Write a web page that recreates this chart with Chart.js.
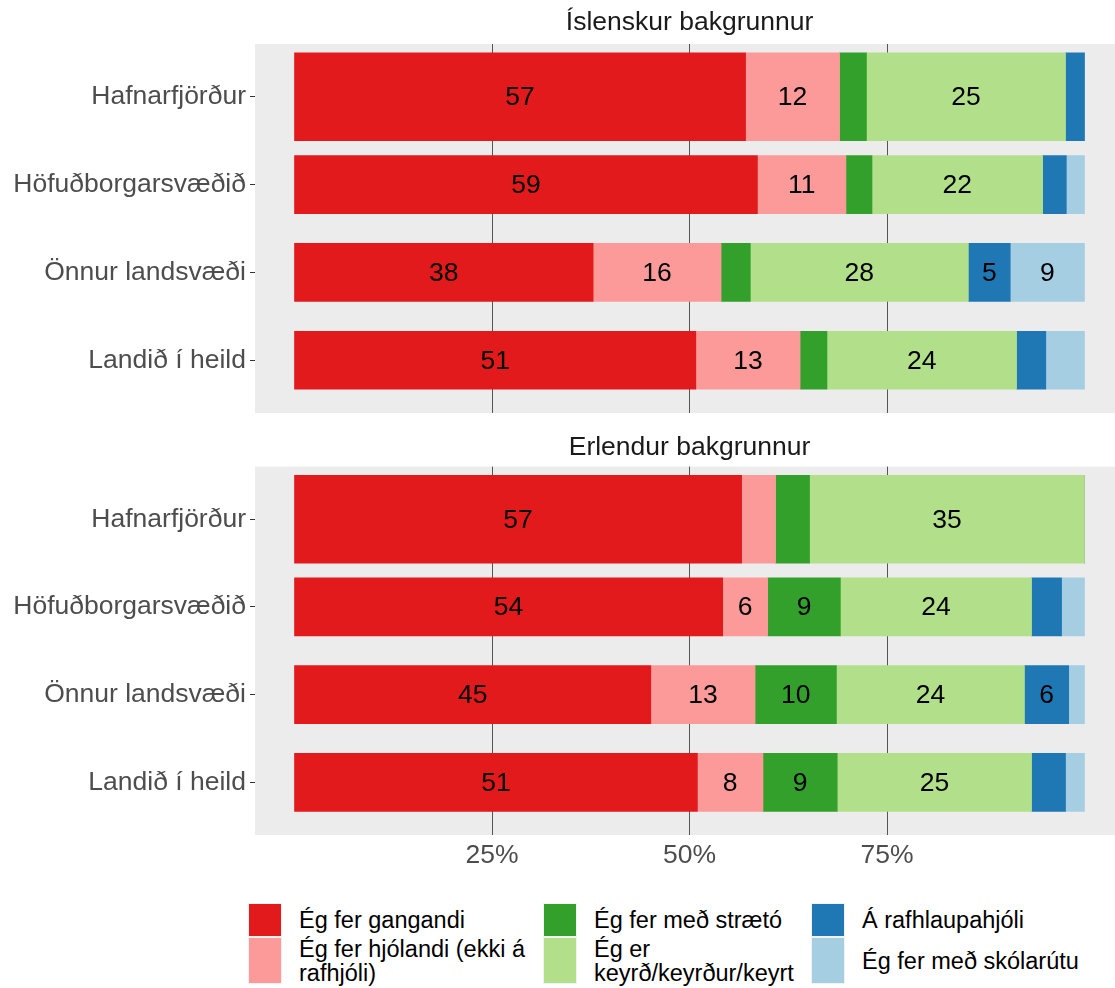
<!DOCTYPE html>
<html lang="is">
<head>
<meta charset="utf-8">
<title>Ferðamáti</title>
<script src="https://cdn.jsdelivr.net/npm/chart.js@4.4.1/dist/chart.umd.min.js"></script>
<style>
  html, body { margin: 0; padding: 0; background: #fff; overflow: hidden; }
  #wrap { position: relative; width: 1115px; height: 988px; overflow: hidden; }
  #wrap canvas { position: absolute; left: 0; }
  #c1 { top: 0; }
  #c2 { top: 425px; }
  .leg { position: absolute; display: flex; align-items: center;
         font-family: "Liberation Sans", Arial, sans-serif; font-size: 23.5px;
         line-height: 24px; color: #000; }
  .leg .key { flex: none; width: 32px; align-self: stretch; margin-right: 18px;
              box-shadow: 0 0 0 1px #F2F2F2; }
  .leg .txt span { white-space: nowrap; }
</style>
</head>
<body>
<div id="wrap">
  <canvas id="c1" width="1124" height="413"></canvas>
  <canvas id="c2" width="1124" height="450"></canvas>
  <div id="legend"></div>
</div>
<script>
// ---------- data ----------
const regions = ['Hafnarfjörður', 'Höfuðborgarsvæðið', 'Önnur landsvæði', 'Landið í heild'];
const panelTitles = ['Íslenskur bakgrunnur', 'Erlendur bakgrunnur'];
const modes = [
  'Ég fer gangandi',
  'Ég fer hjólandi (ekki á rafhjóli)',
  'Ég fer með strætó',
  'Ég er keyrð/keyrður/keyrt',
  'Á rafhlaupahjóli',
  'Ég fer með skólarútu'
];
const xTicks = [25, 50, 75];

// Íslenskur bakgrunnur (% per region)
const islGangandi  = [57.1, 58.6, 37.8, 50.8];
const islHjolandi  = [11.9, 11.2, 16.2, 13.2];
const islStraeto   = [3.4, 3.3, 3.7, 3.4];
const islKeyrd     = [25.2, 21.6, 27.6, 24.0];
const islRafhlaup  = [2.4, 3.0, 5.3, 3.7];
const islSkolaruta = [0.0, 2.3, 9.4, 4.9];

// Erlendur bakgrunnur (% per region)
const erlGangandi  = [56.6, 54.2, 45.1, 51.0];
const erlHjolandi  = [4.3, 5.7, 13.2, 8.3];
const erlStraeto   = [4.3, 9.2, 10.3, 9.4];
const erlKeyrd     = [34.8, 24.2, 23.8, 24.6];
const erlRafhlaup  = [0.0, 3.8, 5.6, 4.3];
const erlSkolaruta = [0.0, 2.9, 2.0, 2.4];

// ---------- styles ----------
const colors = ['#E31A1C', '#FB9A99', '#33A02C', '#B2DF8A', '#1F78B4', '#A6CEE3'];
const FONT = '"Liberation Sans", Arial, sans-serif';
const wideThickness = 88;   // first region bar is drawn wider
const narrowThickness = 58;
const labelThreshold = 5;

function buildDatasets(series) {
  const out = [];
  series.forEach((vals, s) => {
    out.push({
      label: modes[s],
      data: [{ x: vals[0], y: 1 }],
      backgroundColor: colors[s],
      borderWidth: 0,
      barThickness: wideThickness
    });
    out.push({
      label: modes[s],
      data: vals.slice(1).map((v, i) => ({ x: v, y: i + 2 })),
      backgroundColor: colors[s],
      borderWidth: 0,
      barThickness: narrowThickness
    });
  });
  return out;
}

const panelBg = {
  id: 'panelBg',
  beforeDraw(chart) {
    const { ctx, chartArea: a } = chart;
    ctx.save();
    ctx.fillStyle = '#ECECEC';
    ctx.fillRect(a.left, a.top, a.right - a.left, a.bottom - a.top);
    ctx.restore();
  }
};

const valueLabels = {
  id: 'valueLabels',
  afterDatasetsDraw(chart) {
    const ctx = chart.ctx;
    ctx.save();
    ctx.font = '26.5px ' + FONT;
    ctx.fillStyle = '#000';
    ctx.textAlign = 'center';
    ctx.textBaseline = 'middle';
    chart.data.datasets.forEach((ds, di) => {
      const meta = chart.getDatasetMeta(di);
      meta.data.forEach((el, i) => {
        const v = ds.data[i].x;
        if (v >= labelThreshold) {
          const p = el.getProps(['x', 'base', 'y'], true);
          ctx.fillText(String(Math.round(v)), (p.x + p.base) / 2, p.y + 1);
        }
      });
    });
    ctx.restore();
  }
};

function makeChart(id, title, series, showX, titlePad) {
  return new Chart(document.getElementById(id), {
    type: 'bar',
    data: { datasets: buildDatasets(series) },
    options: {
      indexAxis: 'y',
      responsive: false,
      animation: false,
      devicePixelRatio: 1,
      layout: { padding: 0 },
      plugins: {
        legend: { display: false },
        tooltip: { enabled: false },
        title: {
          display: true, text: title, fullSize: false, color: '#1A1A1A',
          font: { family: FONT, size: 26.5, weight: 'normal', lineHeight: 1.2 },
          padding: titlePad
        }
      },
      scales: {
        x: {
          type: 'linear', stacked: true, min: -5, max: 105, offset: false,
          afterBuildTicks: s => { s.ticks = xTicks.map(v => ({ value: v })); },
          afterFit: s => { s.height = showX ? 40 : 0; s.paddingLeft = 0; s.paddingRight = 0; },
          grid: { color: '#555555', lineWidth: 1, drawTicks: false, offset: false },
          border: { display: false },
          ticks: {
            display: showX, padding: 5, color: '#4D4D4D', maxRotation: 0, autoSkip: false,
            font: { family: FONT, size: 26.5 },
            callback: v => v + '%'
          }
        },
        y: {
          type: 'linear', stacked: true, reverse: true, min: 0.4, max: 4.6,
          offset: false, bounds: 'data',
          afterBuildTicks: s => { s.ticks = regions.map((_, i) => ({ value: i + 1 })); },
          afterFit: s => { s.width = 255; s.paddingTop = 0; s.paddingBottom = 0; },
          grid: { drawOnChartArea: false, drawTicks: true, tickLength: 5, tickColor: '#333333', tickWidth: 1, offset: false },
          border: { display: false },
          ticks: {
            padding: 4, color: '#4D4D4D', autoSkip: false,
            font: { family: FONT, size: 26.5 },
            callback: v => regions[v - 1]
          }
        }
      }
    },
    plugins: [panelBg, valueLabels]
  });
}

makeChart('c1', panelTitles[0],
  [islGangandi, islHjolandi, islStraeto, islKeyrd, islRafhlaup, islSkolaruta],
  false, { top: 6.8, bottom: 5.4 });
makeChart('c2', panelTitles[1],
  [erlGangandi, erlHjolandi, erlStraeto, erlKeyrd, erlRafhlaup, erlSkolaruta],
  true, { top: 6.8, bottom: 3 });

// ---------- legend (HTML) ----------
const legendSlots = [
  { left: 249, top: 904, h: 32, w: 236 },
  { left: 249, top: 938, h: 45, w: 236 },
  { left: 544, top: 904, h: 32, w: 212 },
  { left: 544, top: 938, h: 45, w: 212 },
  { left: 812, top: 904, h: 32, w: 260 },
  { left: 812, top: 938, h: 45, w: 260 }
];
const legend = document.getElementById('legend');
modes.forEach((name, s) => {
  const slot = legendSlots[s];
  const item = document.createElement('div');
  item.className = 'leg';
  item.style.left = slot.left + 'px';
  item.style.top = slot.top + 'px';
  item.style.height = slot.h + 'px';
  const key = document.createElement('div');
  key.className = 'key';
  key.style.background = colors[s];
  const txt = document.createElement('div');
  txt.className = 'txt';
  txt.style.width = slot.w + 'px';
  name.split(' ').forEach((w, i) => {
    if (i > 0) txt.appendChild(document.createTextNode(' '));
    const sp = document.createElement('span');
    sp.textContent = w;
    txt.appendChild(sp);
  });
  item.appendChild(key);
  item.appendChild(txt);
  legend.appendChild(item);
});
</script>
</body>
</html>
